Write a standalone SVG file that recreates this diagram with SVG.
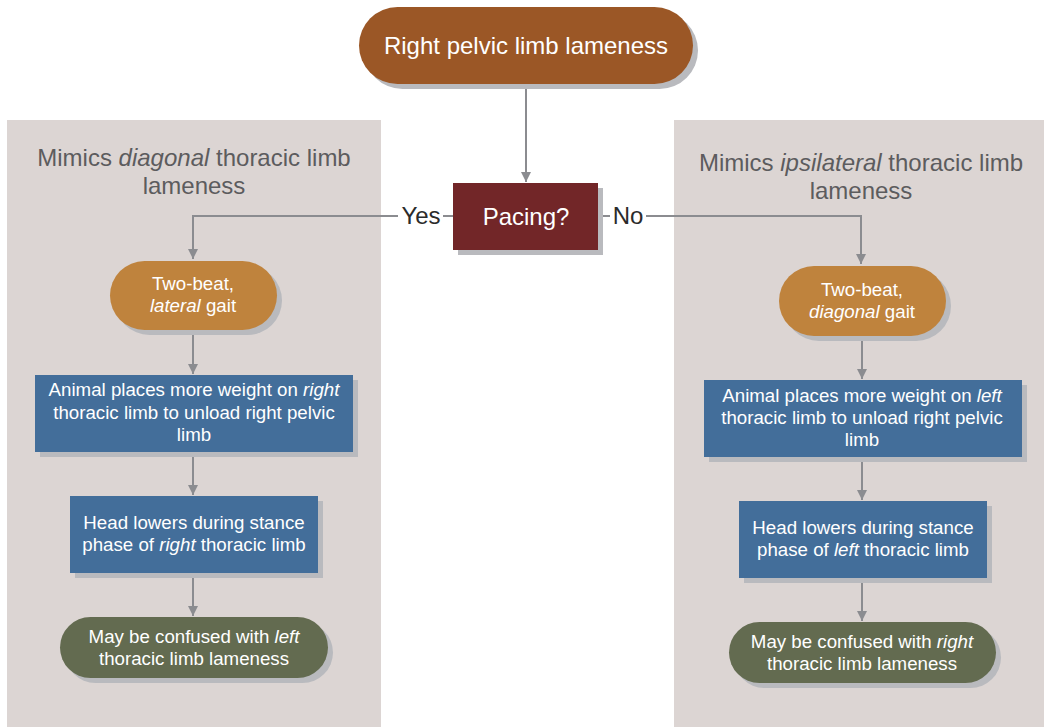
<svg xmlns="http://www.w3.org/2000/svg" width="1044" height="727" viewBox="0 0 1044 727">
<defs>
<style>
text{font-family:"Liberation Sans",Arial,sans-serif;text-anchor:middle}
.w{fill:#ffffff;font-size:18.7px}
.t{fill:#5c5c5e;font-size:24px}
.sh{fill:#b9babe}
.ln{fill:none;stroke:#8b8c90;stroke-width:2}
.lbl{fill:#2b2b2b;font-size:24px}
</style>
<marker id="ah" markerWidth="12" markerHeight="10" refX="10" refY="5" orient="auto" markerUnits="userSpaceOnUse">
<path d="M0,0 L10,5 L0,10 Z" fill="#8b8c90"/>
</marker>
</defs>
<rect width="1044" height="727" fill="#ffffff"/>
<g id="panel-left">
<rect x="7" y="120" width="374" height="607" fill="#dcd5d3"/>
<text class="t" x="194" y="166">Mimics <tspan font-style="italic">diagonal</tspan> thoracic limb</text>
<text class="t" x="194" y="194">lameness</text>
</g>
<g id="panel-right">
<rect x="674" y="120" width="370" height="607" fill="#dcd5d3"/>
<text class="t" x="861" y="171">Mimics <tspan font-style="italic">ipsilateral</tspan> thoracic limb</text>
<text class="t" x="861" y="199">lameness</text>
</g>
<g id="connectors">
<line class="ln" x1="526" y1="84" x2="526" y2="182" marker-end="url(#ah)"/>
<polyline class="ln" points="398,216 193,216 193,259" marker-end="url(#ah)"/>
<line class="ln" x1="443" y1="216" x2="453" y2="216"/>
<line class="ln" x1="598" y1="216" x2="610" y2="216"/>
<polyline class="ln" points="646,216 861,216 861,264" marker-end="url(#ah)"/>
<line class="ln" x1="193" y1="330" x2="193" y2="374" marker-end="url(#ah)"/>
<line class="ln" x1="193" y1="452" x2="193" y2="495" marker-end="url(#ah)"/>
<line class="ln" x1="193" y1="573" x2="193" y2="616" marker-end="url(#ah)"/>
<line class="ln" x1="862" y1="336" x2="862" y2="379" marker-end="url(#ah)"/>
<line class="ln" x1="862" y1="457" x2="862" y2="500" marker-end="url(#ah)"/>
<line class="ln" x1="862" y1="578" x2="862" y2="621" marker-end="url(#ah)"/>
<text class="lbl" x="421" y="224">Yes</text>
<text class="lbl" x="628" y="224">No</text>
</g>
<g id="start">
<rect class="sh" x="364" y="12" width="334" height="77" rx="38.5"/>
<rect x="359" y="7" width="334" height="77" rx="38.5" fill="#9b5726"/>
<text x="526" y="54" fill="#ffffff" font-size="24">Right pelvic limb lameness</text>
</g>
<g id="pacing">
<rect class="sh" x="458" y="188" width="145" height="67"/>
<rect x="453" y="183" width="145" height="67" fill="#722628"/>
<text x="526" y="225" fill="#ffffff" font-size="24">Pacing?</text>
</g>
<g id="left-gait">
<rect class="sh" x="115" y="266" width="167" height="69" rx="34.5"/>
<rect x="110" y="261" width="167" height="69" rx="34.5" fill="#bf833d"/>
<text class="w" x="193" y="290">Two-beat,</text>
<text class="w" x="193" y="312"><tspan font-style="italic">lateral</tspan> gait</text>
</g>
<g id="left-weight">
<rect class="sh" x="40" y="380" width="318" height="77"/>
<rect x="35" y="375" width="318" height="77" fill="#436e9a"/>
<text class="w" x="194" y="396">Animal places more weight on <tspan font-style="italic">right</tspan></text>
<text class="w" x="194" y="419">thoracic limb to unload right pelvic</text>
<text class="w" x="194" y="441">limb</text>
</g>
<g id="left-head">
<rect class="sh" x="75" y="501" width="248" height="77"/>
<rect x="70" y="496" width="248" height="77" fill="#436e9a"/>
<text class="w" x="194" y="529">Head lowers during stance</text>
<text class="w" x="194" y="551">phase of <tspan font-style="italic">right</tspan> thoracic limb</text>
</g>
<g id="left-confused">
<rect class="sh" x="65" y="622" width="268" height="61" rx="30.5"/>
<rect x="60" y="617" width="268" height="61" rx="30.5" fill="#636b50"/>
<text class="w" x="194" y="643">May be confused with <tspan font-style="italic">left</tspan></text>
<text class="w" x="194" y="665">thoracic limb lameness</text>
</g>
<g id="right-gait">
<rect class="sh" x="784" y="271" width="167" height="70" rx="35"/>
<rect x="779" y="266" width="167" height="70" rx="35" fill="#bf833d"/>
<text class="w" x="862" y="296">Two-beat,</text>
<text class="w" x="862" y="318"><tspan font-style="italic">diagonal</tspan> gait</text>
</g>
<g id="right-weight">
<rect class="sh" x="709" y="385" width="318" height="77"/>
<rect x="704" y="380" width="318" height="77" fill="#436e9a"/>
<text class="w" x="862" y="402">Animal places more weight on <tspan font-style="italic">left</tspan></text>
<text class="w" x="862" y="424">thoracic limb to unload right pelvic</text>
<text class="w" x="862" y="446">limb</text>
</g>
<g id="right-head">
<rect class="sh" x="744" y="506" width="248" height="77"/>
<rect x="739" y="501" width="248" height="77" fill="#436e9a"/>
<text class="w" x="863" y="534">Head lowers during stance</text>
<text class="w" x="863" y="556">phase of <tspan font-style="italic">left</tspan> thoracic limb</text>
</g>
<g id="right-confused">
<rect class="sh" x="734" y="627" width="267" height="61" rx="30.5"/>
<rect x="729" y="622" width="267" height="61" rx="30.5" fill="#636b50"/>
<text class="w" x="862" y="648">May be confused with <tspan font-style="italic">right</tspan></text>
<text class="w" x="862" y="670">thoracic limb lameness</text>
</g>
</svg>
